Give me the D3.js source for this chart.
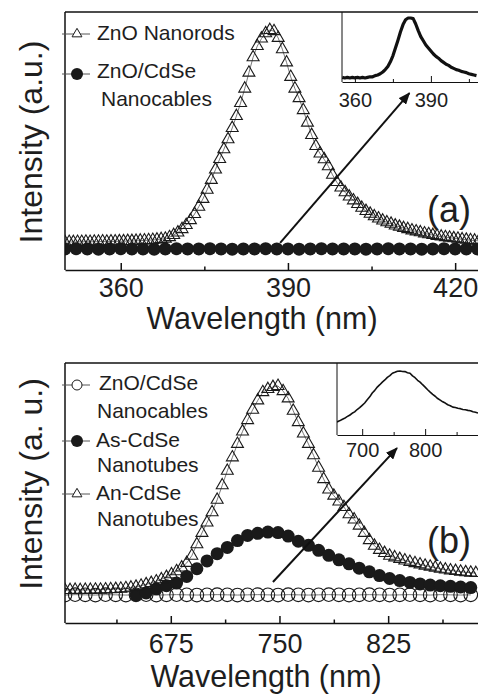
<!DOCTYPE html>
<html>
<head>
<meta charset="utf-8">
<script src="https://cdn.jsdelivr.net/npm/d3@7"></script>
<style>
  html, body { margin: 0; padding: 0; background: #fff; }
  svg { display: block; font-family: "Liberation Sans", Arial, sans-serif; }
</style>
</head>
<body>
<div id="grafico"></div>
<script>
// ---- painel (a): espectros PL no UV ----
const aRodsStart = 350, aRodsStep = 0.75;
const aRods = [
  0.004,0.005,0.004,0.005,0.005,0.006,0.005,0.006,0.006,0.007,0.006,0.007,
  0.007,0.008,0.008,0.009,0.009,0.010,0.011,0.012,0.013,0.014,0.016,0.018,
  0.020,0.027,0.037,0.049,0.065,0.084,0.107,0.136,0.170,0.207,0.250,0.296,0.345,
  0.394,0.440,0.487,0.540,0.596,0.657,0.725,0.800,0.872,0.925,0.960,0.985,1.000,
  0.995,0.963,0.910,0.848,0.780,0.725,0.680,0.624,0.565,0.507,0.455,0.420,0.393,
  0.360,0.320,0.286,0.260,0.238,0.218,0.200,0.183,0.165,0.150,0.137,0.125,0.115,
  0.105,0.097,0.090,0.082,0.076,0.070,0.065,0.059,0.054,0.050,0.045,0.041,
  0.037,0.033,0.030,0.027,0.025,0.022,0.020,0.017,0.015,0.013,0.011,0.010
];
const aCablesStart = 350, aCablesStep = 2;
const aCables = [
  -0.028,-0.027,-0.028,-0.029,-0.028,-0.027,-0.028,-0.028,-0.029,-0.028,
  -0.027,-0.028,-0.028,-0.027,-0.028,-0.029,-0.028,-0.028,-0.027,-0.028,
  -0.028,-0.029,-0.028,-0.027,-0.028,-0.028,-0.028,-0.029,-0.028,-0.027,
  -0.028,-0.028,-0.029,-0.028,-0.027,-0.028,-0.028,-0.028
];
const aInsetStart = 355, aInsetStep = 1;
const aInset = [
  0.01,0.00,0.01,0.00,0.01,0.00,0.01,0.00,0.01,0.00,0.01,0.02,0.02,0.04,0.05,
  0.07,0.10,0.14,0.19,0.27,0.37,0.50,0.63,0.77,0.89,0.97,1.00,1.00,0.99,0.90,
  0.79,0.69,0.62,0.55,0.50,0.45,0.40,0.36,0.33,0.29,0.26,0.23,0.21,0.18,0.16,
  0.14,0.13,0.11,0.10,0.09,0.07,0.06,0.05,0.04
];
const aMajor = [360, 390, 420], aMinor = [375, 405];
const aInsetMajor = [360, 390], aInsetMinor = [375, 405];

// ---- painel (b): espectros PL no visível ----
const bCablesStart = 602, bCablesStep = 7;
const bCables = [
  0.000,0.002,0.001,0.000,0.002,0.001,0.000,0.001,0.002,0.000,
  0.001,0.002,0.001,0.000,0.001,0.002,0.001,0.000,0.001,0.002,
  0.001,0.000,0.002,0.001,0.000,0.001,0.002,0.001,0.000,0.001,
  0.002,0.001,0.000,0.001,0.002,0.001,0.000,0.002,0.001,0.000,0.001
];
const bAsStart = 651, bAsStep = 7;
const bAsTubes = [
  0.000,0.010,0.030,0.045,0.058,0.090,0.127,0.165,0.200,0.230,
  0.263,0.288,0.298,0.304,0.302,0.285,0.260,0.240,0.216,0.192,
  0.170,0.151,0.130,0.112,0.094,0.080,0.070,0.061,0.054,0.048,
  0.045,0.042,0.039,0.036
];
const bAnStart = 602, bAnStep = 3.5;
const bAnTubes = [
  0.024,0.024,0.025,0.024,0.025,0.025,0.026,0.026,0.027,0.028,
  0.029,0.031,0.033,0.036,0.040,0.045,0.052,0.058,0.066,0.076,
  0.087,0.100,0.115,0.133,0.155,0.190,0.245,0.300,0.350,0.400,
  0.460,0.530,0.600,0.665,0.730,0.790,0.845,0.895,0.940,0.980,
  0.995,1.005,1.010,0.985,0.950,0.890,0.835,0.780,0.730,0.675,
  0.615,0.560,0.510,0.480,0.452,0.425,0.390,0.365,0.335,0.300,
  0.265,0.238,0.218,0.203,0.190,0.182,0.174,0.167,0.160,0.154,
  0.148,0.142,0.137,0.132,0.127,0.123,0.119,0.116,0.113,0.110,
  0.108,0.106
];
const bInsetStart = 660, bInsetStep = 4;
const bInset = [
  0.136,0.155,0.178,0.198,0.226,0.250,0.283,0.308,0.347,0.378,
  0.418,0.458,0.512,0.562,0.628,0.672,0.728,0.768,0.812,0.848,
  0.892,0.922,0.962,0.978,0.997,1.000,0.993,0.990,0.972,0.962,
  0.918,0.887,0.843,0.812,0.768,0.727,0.683,0.642,0.603,0.572,
  0.533,0.507,0.478,0.457,0.428,0.412,0.388,0.382,0.368,0.362,
  0.348,0.342,0.333,0.327,0.308,0.302,0.288
];
const bMajor = [675, 750, 825], bMinor = [637.5, 712.5, 787.5, 862.5];
const bInsetMajor = [700, 800], bInsetMinor = [750, 850];

const TXT = '#1e1e1e';

function pontos(start, step, values) {
  return values.map((v, i) => ({ x: start + i * step, y: v }));
}

const svg = d3.select('#grafico').append('svg')
  .attr('width', 478).attr('height', 694);

const defs = svg.append('defs');
defs.append('marker')
  .attr('id', 'seta')
  .attr('viewBox', '0 0 12 10')
  .attr('refX', 11).attr('refY', 5)
  .attr('markerWidth', 12).attr('markerHeight', 10)
  .attr('markerUnits', 'userSpaceOnUse')
  .attr('orient', 'auto')
  .append('path').attr('d', 'M0,0 L12,5 L0,10 Z').attr('fill', '#111');

function desenharMarcadores(g, data, x, y, tipo) {
  if (tipo === 'triangle') {
    g.selectAll(null).data(data).enter().append('path')
      .attr('d', d3.symbol().type(d3.symbolTriangle).size(62))
      .attr('transform', d => `translate(${x(d.x)},${y(d.y)})`)
      .attr('fill', 'none').attr('stroke', '#1a1a1a').attr('stroke-width', 1.1);
  } else if (tipo === 'dot') {
    g.selectAll(null).data(data).enter().append('circle')
      .attr('cx', d => x(d.x)).attr('cy', d => y(d.y)).attr('r', 6.5)
      .attr('fill', '#1a1a1a');
  } else {
    g.selectAll(null).data(data).enter().append('circle')
      .attr('cx', d => x(d.x)).attr('cy', d => y(d.y)).attr('r', 6.8)
      .attr('fill', 'none').attr('stroke', '#1a1a1a').attr('stroke-width', 1.1);
  }
}

function eixoInferior(g, x, bottom, major, minor, tam, pad, fonte, largura) {
  const ax = g.append('g').attr('transform', `translate(0,${bottom})`)
    .call(d3.axisBottom(x).tickValues(major).tickSize(-tam).tickSizeOuter(0).tickPadding(pad));
  ax.attr('font-family', null).attr('font-size', fonte);
  ax.select('.domain').attr('stroke', '#111').attr('stroke-width', largura);
  ax.selectAll('.tick line').attr('stroke', '#111').attr('stroke-width', largura);
  ax.selectAll('.tick text').attr('fill', TXT);
  const mi = g.append('g').attr('transform', `translate(0,${bottom})`)
    .call(d3.axisBottom(x).tickValues(minor).tickSize(-tam / 2).tickSizeOuter(0).tickFormat(''));
  mi.select('.domain').remove();
  mi.selectAll('.tick line').attr('stroke', '#111').attr('stroke-width', largura);
}

function desenharPainel(cfg) {
  const x = d3.scaleLinear().domain(cfg.xDomain).range([65, 478]);
  const y = d3.scaleLinear().domain(cfg.yDomain).range([cfg.bottom, cfg.top]);
  const g = svg.append('g');

  const clipId = 'clip-' + cfg.id;
  defs.append('clipPath').attr('id', clipId).append('rect')
    .attr('x', 65).attr('y', cfg.top).attr('width', 413).attr('height', cfg.bottom - cfg.top);

  const area = g.append('g').attr('clip-path', `url(#${clipId})`);
  const linha = d3.line().x(d => x(d.x)).y(d => y(d.y));

  cfg.series.forEach(s => {
    area.append('path').datum(s.data).attr('d', linha)
      .attr('fill', 'none').attr('stroke', '#555').attr('stroke-width', 0.8);
    desenharMarcadores(area.append('g'), s.data, x, y, s.tipo);
  });

  // moldura: eixo esquerdo e borda superior
  g.append('line').attr('x1', 65).attr('x2', 65).attr('y1', cfg.top).attr('y2', cfg.bottom)
    .attr('stroke', '#111').attr('stroke-width', 1.5);
  g.append('line').attr('x1', 65).attr('x2', 478).attr('y1', cfg.top).attr('y2', cfg.top)
    .attr('stroke', '#111').attr('stroke-width', 1.5);
  eixoInferior(g, x, cfg.bottom, cfg.major, cfg.minor, 7, cfg.tickPad, 27, 1.5);

  // seta
  g.append('line')
    .attr('x1', x(cfg.seta[0][0])).attr('y1', y(cfg.seta[0][1]))
    .attr('x2', x(cfg.seta[1][0])).attr('y2', y(cfg.seta[1][1]))
    .attr('stroke', '#111').attr('stroke-width', 2).attr('marker-end', 'url(#seta)');

  // inset
  const ins = cfg.inset;
  const xi = d3.scaleLinear().domain(ins.xDomain).range([ins.left, 478]);
  const yi = d3.scaleLinear().domain(ins.yDomain).range([ins.bottom, cfg.top]);
  const gi = g.append('g');
  gi.append('rect').attr('x', ins.left).attr('y', cfg.top + 1)
    .attr('width', 478 - ins.left).attr('height', ins.bottom - cfg.top - 1).attr('fill', '#fff');
  defs.append('clipPath').attr('id', clipId + 'i').append('rect')
    .attr('x', ins.left).attr('y', cfg.top).attr('width', 478 - ins.left).attr('height', ins.bottom - cfg.top);
  gi.append('path').datum(ins.data)
    .attr('clip-path', `url(#${clipId}i)`)
    .attr('d', d3.line().x(d => xi(d.x)).y(d => yi(d.y)))
    .attr('fill', 'none').attr('stroke', '#111').attr('stroke-width', ins.espessura)
    .attr('stroke-linejoin', 'round');
  gi.append('line').attr('x1', ins.left).attr('x2', ins.left).attr('y1', cfg.top).attr('y2', ins.bottom)
    .attr('stroke', '#111').attr('stroke-width', 1);
  eixoInferior(gi, xi, ins.bottom, ins.major, ins.minor, 6, ins.pad, 20, 1);

  // legenda
  cfg.legenda.forEach(l => {
    g.append('line').attr('x1', 62).attr('x2', 90).attr('y1', l.y).attr('y2', l.y)
      .attr('stroke', '#555').attr('stroke-width', 1);
    if (l.tipo === 'triangle') {
      g.append('path').attr('d', d3.symbol().type(d3.symbolTriangle).size(42))
        .attr('transform', `translate(77,${l.y})`)
        .attr('fill', '#fff').attr('stroke', '#1a1a1a').attr('stroke-width', 1);
    } else if (l.tipo === 'dot') {
      g.append('circle').attr('cx', 77).attr('cy', l.y).attr('r', 6).attr('fill', '#1a1a1a');
    } else {
      g.append('circle').attr('cx', 77).attr('cy', l.y).attr('r', 5)
        .attr('fill', '#fff').attr('stroke', '#1a1a1a').attr('stroke-width', 1);
    }
    l.linhas.forEach(t => {
      g.append('text').attr('x', t[0]).attr('y', t[1]).attr('font-size', 21)
        .attr('fill', TXT).text(t[2]);
    });
  });

  // rótulos
  g.append('text').attr('x', 471).attr('y', cfg.letraY).attr('text-anchor', 'end')
    .attr('font-size', 36).attr('fill', TXT).text(cfg.letra);
  g.append('text').attr('x', cfg.xTituloX).attr('y', cfg.xTituloY).attr('text-anchor', 'middle')
    .attr('font-size', 30.5).attr('fill', TXT).text('Wavelength (nm)');
  g.append('text').attr('transform', `translate(42,${cfg.yTituloY}) rotate(-90)`)
    .attr('text-anchor', 'middle').attr('font-size', 32).attr('fill', TXT).text(cfg.yTitulo);
}

desenharPainel({
  id: 'a', top: 12, bottom: 270, tickPad: 8,
  xDomain: [350, 424.1], yDomain: [-0.127, 1.085],
  major: aMajor, minor: aMinor,
  series: [
    { tipo: 'triangle', data: pontos(aRodsStart, aRodsStep, aRods) },
    { tipo: 'dot', data: pontos(aCablesStart, aCablesStep, aCables) }
  ],
  seta: [[388.6, 0], [411.8, 0.704]],
  inset: {
    left: 342, bottom: 82, xDomain: [354.9, 408.6], yDomain: [-0.067, 1.1],
    data: pontos(aInsetStart, aInsetStep, aInset), espessura: 3.2,
    major: aInsetMajor, minor: aInsetMinor, pad: 11
  },
  legenda: [
    { tipo: 'triangle', y: 34, linhas: [[97, 40, 'ZnO Nanorods']] },
    { tipo: 'dot', y: 74, linhas: [[97, 78, 'ZnO/CdSe'], [101, 106, 'Nanocables']] }
  ],
  letra: '(a)', letraY: 222,
  xTituloX: 262, xTituloY: 329,
  yTitulo: 'Intensity (a.u.)', yTituloY: 142
});

desenharPainel({
  id: 'b', top: 363, bottom: 623, tickPad: 11,
  xDomain: [602, 887], yDomain: [-0.135, 1.121],
  major: bMajor, minor: bMinor,
  series: [
    { tipo: 'ring', data: pontos(bCablesStart, bCablesStep, bCables) },
    { tipo: 'dot', data: pontos(bAsStart, bAsStep, bAsTubes) },
    { tipo: 'triangle', data: pontos(bAnStart, bAnStep, bAnTubes) }
  ],
  seta: [[745.5, 0.063], [831.1, 0.71]],
  inset: {
    left: 337, bottom: 435, xDomain: [660, 884], yDomain: [-0.085, 1.136],
    data: pontos(bInsetStart, bInsetStep, bInset), espessura: 1.6,
    major: bInsetMajor, minor: bInsetMinor, pad: 8
  },
  legenda: [
    { tipo: 'ring', y: 385, linhas: [[99, 390, 'ZnO/CdSe'], [97, 418, 'Nanocables']] },
    { tipo: 'dot', y: 441, linhas: [[96, 447, 'As-CdSe'], [97, 472, 'Nanotubes']] },
    { tipo: 'triangle', y: 494, linhas: [[96, 500, 'An-CdSe'], [97, 526, 'Nanotubes']] }
  ],
  letra: '(b)', letraY: 553,
  xTituloX: 266, xTituloY: 687,
  yTitulo: 'Intensity (a. u.)', yTituloY: 484
});
</script>
</body>
</html>
